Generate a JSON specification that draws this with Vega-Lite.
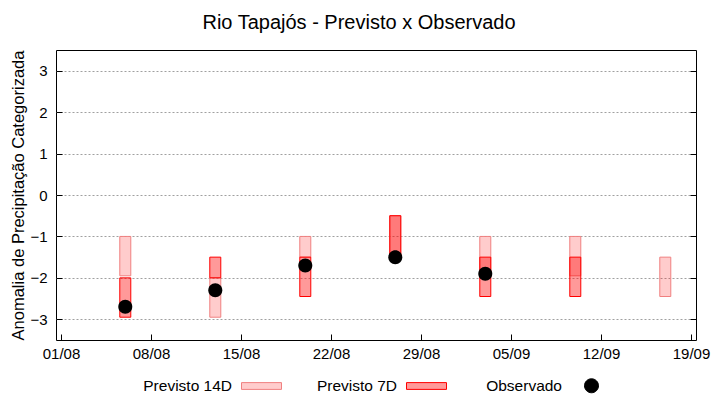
{
  "$schema": "https://vega.github.io/schema/vega-lite/v6.json",
  "autosize": {"type": "none"},
  "padding": {"left": 56, "top": 50, "right": 24, "bottom": 60},
  "width": 640,
  "height": 290,
  "background": "white",
  "title": {"text": "Rio Tapajós - Previsto x Observado", "font": "Liberation Sans", "fontSize": 20, "fontWeight": "normal", "color": "#000000", "offset": 17, "dx": -17},
  "config": {
    "view": {"stroke": "#000000", "strokeWidth": 1},
    "font": "Liberation Sans"
  },
  "datasets": {
    "prev": [
      {"data": "2024-08-06T00:00:00Z", "serie": "Previsto 14D", "ini": -1.0, "fim": -1.95},
      {"data": "2024-08-06T00:00:00Z", "serie": "Previsto 7D", "ini": -2.0, "fim": -2.95},
      {"data": "2024-08-13T00:00:00Z", "serie": "Previsto 14D", "ini": -2.0, "fim": -2.95},
      {"data": "2024-08-13T00:00:00Z", "serie": "Previsto 7D", "ini": -1.5, "fim": -2.0},
      {"data": "2024-08-20T00:00:00Z", "serie": "Previsto 14D", "ini": -1.0, "fim": -1.5},
      {"data": "2024-08-20T00:00:00Z", "serie": "Previsto 7D", "ini": -1.5, "fim": -2.45},
      {"data": "2024-08-27T00:00:00Z", "serie": "Previsto 14D", "ini": -0.5, "fim": -1.5},
      {"data": "2024-08-27T00:00:00Z", "serie": "Previsto 7D", "ini": -0.5, "fim": -1.5},
      {"data": "2024-09-03T00:00:00Z", "serie": "Previsto 14D", "ini": -1.0, "fim": -1.95},
      {"data": "2024-09-03T00:00:00Z", "serie": "Previsto 7D", "ini": -1.5, "fim": -2.45},
      {"data": "2024-09-10T00:00:00Z", "serie": "Previsto 14D", "ini": -1.0, "fim": -1.95},
      {"data": "2024-09-10T00:00:00Z", "serie": "Previsto 7D", "ini": -1.5, "fim": -2.45},
      {"data": "2024-09-17T00:00:00Z", "serie": "Previsto 14D", "ini": -1.5, "fim": -2.45}
    ],
    "obs": [
      {"data": "2024-08-06T00:00:00Z", "serie": "Observado", "valor": -2.7},
      {"data": "2024-08-13T00:00:00Z", "serie": "Observado", "valor": -2.3},
      {"data": "2024-08-20T00:00:00Z", "serie": "Observado", "valor": -1.7},
      {"data": "2024-08-27T00:00:00Z", "serie": "Observado", "valor": -1.5},
      {"data": "2024-09-03T00:00:00Z", "serie": "Observado", "valor": -1.9}
    ]
  },
  "encoding": {
    "x": {
      "field": "data", "type": "temporal",
      "scale": {"type": "utc", "domain": [{"year": 2024, "month": 8, "date": 1, "utc": true}, {"year": 2024, "month": 9, "date": 19, "utc": true}]},
      "axis": {
        "title": null, "format": "%d/%m", "grid": false, "domain": false,
        "values": [
          {"year": 2024, "month": 8, "date": 1, "utc": true},
          {"year": 2024, "month": 8, "date": 8, "utc": true},
          {"year": 2024, "month": 8, "date": 15, "utc": true},
          {"year": 2024, "month": 8, "date": 22, "utc": true},
          {"year": 2024, "month": 8, "date": 29, "utc": true},
          {"year": 2024, "month": 9, "date": 5, "utc": true},
          {"year": 2024, "month": 9, "date": 12, "utc": true},
          {"year": 2024, "month": 9, "date": 19, "utc": true}
        ],
        "tickSize": -6, "tickColor": "#000000", "labelPadding": 12,
        "labelFont": "Liberation Sans", "labelFontSize": 15, "labelColor": "#000000", "labelFlush": false, "labelOverlap": false
      }
    }
  },
  "resolve": {"scale": {"y": "independent"}},
  "layer": [
    {
      "data": {"name": "prev"},
      "mark": {"type": "bar", "size": 11, "strokeWidth": 1},
      "encoding": {
        "y": {
          "field": "ini", "type": "quantitative",
          "scale": {"domain": [-3.5, 3.5], "nice": false, "zero": false},
          "axis": {
            "title": "Anomalia de Precipitação Categorizada", "values": [-3, -2, -1, 0, 1, 2, 3],
            "grid": true, "gridColor": "#a0a0a0", "gridDash": [2, 2], "gridWidth": 1,
            "domain": false, "tickSize": -6, "tickColor": "#000000", "labelPadding": 15,
            "labelFont": "Liberation Sans", "labelFontSize": 15, "labelColor": "#000000",
            "titleFont": "Liberation Sans", "titleFontSize": 16.5, "titleFontWeight": "normal", "titleColor": "#000000", "titlePadding": 3
          }
        },
        "y2": {"field": "fim"},
        "fill": {
          "field": "serie", "type": "nominal",
          "scale": {"domain": ["Previsto 14D", "Previsto 7D", "Observado"], "range": ["rgba(255,0,0,0.2)", "rgba(255,0,0,0.4)", "#000000"]},
          "legend": {
            "title": null, "orient": "none", "legendX": 185, "legendY": 315, "direction": "horizontal", "gridAlign": "all",
            "labelFont": "Liberation Sans", "labelFontSize": 15.5, "labelColor": "#000000",
            "symbolSize": 1600, "symbolStrokeWidth": 1, "labelAlign": "right", "labelOffset": -50, "columnPadding": 32
          }
        },
        "stroke": {
          "field": "serie", "type": "nominal",
          "scale": {"domain": ["Previsto 14D", "Previsto 7D", "Observado"], "range": ["#f08080", "#ff0000", "#000000"]},
          "legend": null
        }
      }
    },
    {
      "data": {"name": "obs"},
      "mark": {"type": "point", "filled": true, "size": 1600, "opacity": 1, "strokeWidth": 0},
      "encoding": {
        "y": {
          "field": "valor", "type": "quantitative",
          "scale": {"domain": [-3.5, 3.5], "nice": false, "zero": false},
          "axis": {"orient": "right", "title": null, "values": [-3, -2, -1, 0, 1, 2, 3], "labels": false, "grid": false, "domain": false, "tickSize": -6, "tickColor": "#000000"}
        },
        "fill": {"field": "serie", "type": "nominal"},
        "shape": {
          "field": "serie", "type": "nominal",
          "scale": {"domain": ["Previsto 14D", "Previsto 7D", "Observado"], "range": ["M-1,-0.17H1V0.17H-1Z", "M-1,-0.17H1V0.17H-1Z", "M0.35,0A0.35,0.35 0 1,1 -0.35,0A0.35,0.35 0 1,1 0.35,0Z"]},
          "legend": {
            "title": null, "orient": "none", "legendX": 185, "legendY": 315, "direction": "horizontal", "gridAlign": "all",
            "labelFont": "Liberation Sans", "labelFontSize": 15.5, "labelColor": "#000000",
            "symbolSize": 1600, "symbolStrokeWidth": 1, "labelAlign": "right", "labelOffset": -50, "columnPadding": 32
          }
        }
      }
    }
  ]
}
